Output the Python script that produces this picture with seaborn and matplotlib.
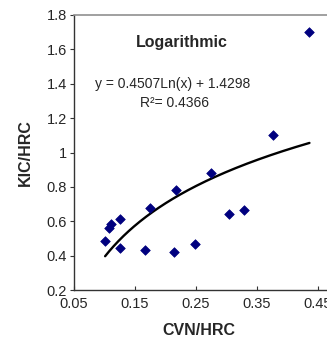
import numpy as np
import pandas as pd
import matplotlib
matplotlib.use("Agg")
import matplotlib.pyplot as plt
import seaborn as sns

# ---- data ----
cvn_hrc = [0.101, 0.107, 0.110, 0.125, 0.125, 0.167, 0.174, 0.214, 0.217,
           0.248, 0.274, 0.304, 0.328, 0.377, 0.436]
kic_hrc = [0.486, 0.560, 0.584, 0.616, 0.443, 0.435, 0.679, 0.422, 0.780,
           0.469, 0.881, 0.640, 0.663, 1.101, 1.701]
fit_slope = 0.4507
fit_intercept = 1.4298
r_squared = 0.4366
x_ticks = [0.05, 0.15, 0.25, 0.35, 0.45]
x_tick_labels = ["0.05", "0.15", "0.25", "0.35", "0.45"]
y_ticks = [0.2, 0.4, 0.6, 0.8, 1.0, 1.2, 1.4, 1.6, 1.8]
y_tick_labels = ["0.2", "0.4", "0.6", "0.8", "1", "1.2", "1.4", "1.6", "1.8"]
title_text = "Logarithmic"
x_label = "CVN/HRC"
y_label = "KIC/HRC"

sns.set_style("white")
plt.rcParams["font.family"] = ["Liberation Sans", "DejaVu Sans"]

df = pd.DataFrame({"x": cvn_hrc, "y": kic_hrc})
xf = np.linspace(min(cvn_hrc), max(cvn_hrc), 200)
fit_df = pd.DataFrame({"x": xf, "y": fit_slope * np.log(xf) + fit_intercept})

W, H = 327, 340
fig = plt.figure(figsize=(W / 100, H / 100), dpi=100)
ax_left_px, ax_top_px, ax_bottom_px = 74, 15, 290
xmin, xmax = 0.05, 0.5
px_per_unit = 610
ax_w_px = (xmax - xmin) * px_per_unit
ax = fig.add_axes([ax_left_px / W, (H - ax_bottom_px) / H,
                   ax_w_px / W, (ax_bottom_px - ax_top_px) / H])

sns.lineplot(data=fit_df, x="x", y="y", ax=ax, color="black", linewidth=1.7,
             zorder=2)
sns.scatterplot(data=df, x="x", y="y", ax=ax, marker="D", color="#00007F",
                edgecolor="#00007F", s=24, linewidth=0.5, zorder=3)

ax.set_xlim(xmin, xmax)
ax.set_ylim(0.2, 1.8)
ax.set_xticks(x_ticks)
ax.set_xticklabels(x_tick_labels)
ax.set_yticks(y_ticks)
ax.set_yticklabels(y_tick_labels)
ax.tick_params(axis="y", direction="out", length=3, width=0.8, color="#333333",
               labelsize=10.5, pad=2)
ax.tick_params(axis="x", direction="in", length=3, width=0.8, color="#333333",
               labelsize=10.5, pad=5)
ax.tick_params(left=True, bottom=True)

for s in ["left", "bottom"]:
    ax.spines[s].set_color("#333333")
    ax.spines[s].set_linewidth(1.0)
ax.spines["top"].set_color("#909090")
ax.spines["top"].set_linewidth(1.2)
ax.spines["right"].set_visible(False)

ax.set_xlabel(x_label, fontsize=11.5, fontweight="bold")
ax.set_ylabel(y_label, fontsize=11.5, fontweight="bold")
ax.xaxis.set_label_coords((199 - ax_left_px) / ax_w_px, -0.12)
ax.yaxis.set_label_coords((33 - ax_left_px) / ax_w_px, 0.5)

ax_h_px = ax_bottom_px - ax_top_px
def ac(px, py):
    return ((px - ax_left_px) / ax_w_px, (ax_bottom_px - py) / ax_h_px)

ax.text(*ac(182, 42), title_text, transform=ax.transAxes, ha="center",
        va="center", fontsize=11.5, fontweight="bold")
ax.text(*ac(173, 84), f"y = {fit_slope:.4f}Ln(x) + {fit_intercept:.4f}",
        transform=ax.transAxes, ha="center", va="center", fontsize=10)
ax.text(*ac(175, 103), f"R\u00b2= {r_squared:.4f}", transform=ax.transAxes,
        ha="center", va="center", fontsize=10)

fig.savefig("out.png", dpi=100)
